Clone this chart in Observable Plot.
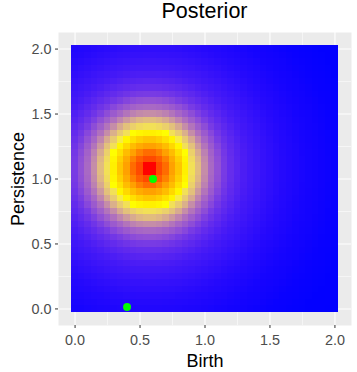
<!DOCTYPE html>
<html><head><meta charset="utf-8">
<script src="https://cdn.jsdelivr.net/npm/d3@7"></script>
<script src="https://cdn.jsdelivr.net/npm/@observablehq/plot@0.6"></script>
<style>
html,body{margin:0;padding:0;background:#fff;}
#wrap{position:relative;width:357px;height:372px;font-family:"Liberation Sans",Arial,sans-serif;}
#title{position:absolute;left:58px;width:293px;top:1px;text-align:center;font-size:21.5px;line-height:1;color:#000;}
#chart{position:absolute;left:0;top:32px;}
</style></head><body>
<div id="wrap"><div id="title">Posterior</div><div id="chart"></div></div>
<script>
// Mode of the posterior surface
const modeBirth = 0.575;
const modePersistence = 1.075;
// Radial profile: distance from the mode -> position on the colour ramp (0 = blue, 1 = red)
const profileDistance = [0, 0.035, 0.079, 0.1275, 0.177, 0.226, 0.276, 0.326, 0.376, 0.426, 0.476, 0.526, 0.575, 0.625, 0.675, 0.725, 0.775, 0.825, 0.875, 0.925, 0.975, 1.025, 1.075, 1.2, 1.4, 1.6, 2.2];
const profileLevel    = [1, 1, 0.92, 0.84, 0.68, 0.55, 0.39, 0.29, 0.24, 0.173, 0.12, 0.087, 0.057, 0.040, 0.030, 0.022, 0.017, 0.014, 0.011, 0.009, 0.007, 0.0055, 0.0045, 0.0025, 0.001, 0.0003, 0];
// Raster grid (cell centres) on both axes
const gridCount = 41;
const gridStep = 0.05;
// Observed points (green)
const pointBirth = [0.6, 0.4];
const pointPersistence = [1.0, 0.015];
// Axis ticks
const majorTicks = [0, 0.5, 1, 1.5, 2];
const minorTicks = [0.25, 0.75, 1.25, 1.75];
// Colour ramp
const rampStops = [0, 1/3, 2/3, 1];
const rampColors = ["#0000FF", "#FFFF00", "#FFA500", "#FF0000"];

const gridValues = d3.range(gridCount).map(i => i * gridStep);
const lookup = d3.scaleLinear().domain(profileDistance).range(profileLevel).clamp(true);
const cells = [];
for (const b of gridValues) for (const p of gridValues) {
  cells.push({birth: b, persistence: p, level: lookup(Math.hypot(b - modeBirth, p - modePersistence))});
}
const points = pointBirth.map((b, i) => ({birth: b, persistence: pointPersistence[i]}));
const half = gridStep / 2;

const chart = Plot.plot({
  width: 357,
  height: 340,
  marginLeft: 58,
  marginRight: 6,
  marginTop: 0,
  marginBottom: 47,
  style: {fontFamily: "'Liberation Sans', Arial, sans-serif", fontSize: "14.4px", background: "white", overflow: "visible"},
  x: {domain: [-0.1275, 2.1275]},
  y: {domain: [-0.1275, 2.1275]},
  color: {type: "linear", domain: rampStops, range: rampColors, interpolate: "lab"},
  marks: [
    Plot.frame({fill: "#EBEBEB", stroke: "none"}),
    Plot.gridX(minorTicks, {stroke: "white", strokeOpacity: 1, strokeWidth: 0.55}),
    Plot.gridY(minorTicks, {stroke: "white", strokeOpacity: 1, strokeWidth: 0.55}),
    Plot.gridX(majorTicks, {stroke: "white", strokeOpacity: 1, strokeWidth: 1.1}),
    Plot.gridY(majorTicks, {stroke: "white", strokeOpacity: 1, strokeWidth: 1.1}),
    Plot.rect(cells, {x1: d => d.birth - half, x2: d => d.birth + half, y1: d => d.persistence - half, y2: d => d.persistence + half, fill: "level", shapeRendering: "crispEdges"}),
    Plot.dot(points, {x: "birth", y: "persistence", r: 4, fill: "#00FF00", stroke: "none"}),
    Plot.axisX(majorTicks, {tickSize: 3, tickPadding: 6, tickFormat: d3.format(".1f"), stroke: "#333333", fill: "#4D4D4D", label: null, fontSize: 14.4}),
    Plot.axisY(majorTicks, {tickSize: 3, tickPadding: 4, tickFormat: d3.format(".1f"), stroke: "#333333", fill: "#4D4D4D", label: null, fontSize: 14.4}),
    Plot.text(["Birth"], {text: d => d, frameAnchor: "bottom", lineAnchor: "middle", dy: 36, fontSize: 18, fill: "black"}),
    Plot.text(["Persistence"], {text: d => d, frameAnchor: "left", lineAnchor: "middle", dx: -40, rotate: -90, textAnchor: "middle", fontSize: 18, fill: "black"})
  ]
});
document.getElementById("chart").appendChild(chart);
</script>
</body></html>
